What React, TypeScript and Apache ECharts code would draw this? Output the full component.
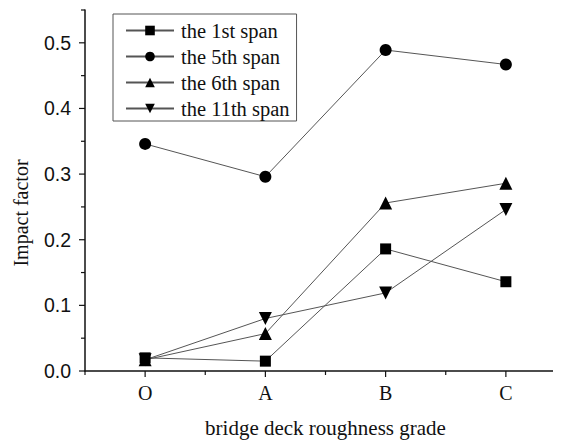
import React, { useEffect, useRef } from "react";
import * as echarts from "echarts";

const categories = ["O", "A", "B", "C"];
const span1 = [0.02, 0.015, 0.186, 0.136];
const span5 = [0.346, 0.296, 0.489, 0.467];
const span6 = [0.017, 0.057, 0.256, 0.286];
const span11 = [0.017, 0.08, 0.119, 0.246];
const seriesNames = ["the 1st span", "the 5th span", "the 6th span", "the 11th span"];
const yTicks = [0, 0.1, 0.2, 0.3, 0.4, 0.5];

export default function App() {
  const ref = useRef<HTMLDivElement>(null);
  useEffect(() => {
    if (!ref.current) return;
    const chart = echarts.init(ref.current, null, { renderer: "svg" });
    const toPts = (arr: number[]) => arr.map((v, i) => [i, v]);
    const symbols = ["rect", "circle", "triangle", "path://M0,0 L10,0 L5,9 Z"];
    const sizes = [11, 12, 13, 13];
    const all = [span1, span5, span6, span11];
    const serif = "Liberation Serif";
    chart.setOption({
      animation: false,
      backgroundColor: "#fff",
      grid: { left: 77, top: 2, width: 482, height: 361 },
      graphic: [
        {
          type: "text",
          x: 13,
          y: 205,
          rotation: Math.PI / 2,
          style: {
            text: "Impact factor",
            fontFamily: serif,
            fontSize: 20,
            fill: "#111",
            align: "center",
            verticalAlign: "middle",
          },
        },
      ],
      legend: {
        orient: "vertical",
        left: 105,
        top: 6,
        itemWidth: 48,
        itemHeight: 12,
        itemGap: 5,
        padding: [6, 7, 2, 12],
        borderColor: "#555",
        borderWidth: 1,
        backgroundColor: "#fff",
        textStyle: { fontFamily: serif, fontSize: 20.5, color: "#111", padding: [0, 0, 0, 2] },
        data: seriesNames,
      },
      xAxis: {
        type: "value",
        min: -0.5,
        max: 3.5,
        interval: 0.5,
        name: "bridge deck roughness grade",
        nameLocation: "middle",
        nameGap: 46,
        nameTextStyle: { fontFamily: serif, fontSize: 21, color: "#111" },
        axisLine: { lineStyle: { color: "#111", width: 1.5 } },
        axisTick: { show: false },
        minorTick: { show: false },
        splitLine: { show: false },
        axisLabel: {
          fontFamily: serif,
          fontSize: 20,
          color: "#111",
          margin: 12,
          formatter: (v: number) => (Number.isInteger(v) && v >= 0 && v < categories.length ? categories[v] : ""),
        },
      },
      yAxis: {
        type: "value",
        min: 0,
        max: 0.55,
        interval: 0.05,
        axisLine: { show: true, onZero: false, lineStyle: { color: "#111", width: 1.5 } },
        axisTick: { show: false },
        splitLine: { show: false },
        axisLabel: {
          fontFamily: "Liberation Sans",
          fontSize: 19.5,
          color: "#111",
          margin: 14,
          formatter: (v: number) => {
            const r = Math.round(v * 100) / 100;
            return yTicks.some((t) => Math.abs(t - r) < 1e-6) ? r.toFixed(1) : "";
          },
        },
      },
      series: [
        ...all.map((arr, i) => ({
          name: seriesNames[i],
          type: "line",
          data: toPts(arr),
          symbol: symbols[i],
          symbolSize: sizes[i],
          showAllSymbol: true,
          lineStyle: { color: "#555", width: 1 },
          itemStyle: { color: "#000", borderWidth: 0 },
          emphasis: { disabled: true },
        })),
        {
          type: "custom",
          silent: true,
          renderItem: (params: any, api: any) => {
            const children: any[] = [];
            for (let k = -0.5; k <= 3.5 + 1e-9; k += 0.5) {
              const p = api.coord([k, 0]);
              const major = Number.isInteger(k) && k >= 0;
              children.push({
                type: "line",
                shape: { x1: p[0], y1: p[1], x2: p[0], y2: p[1] + (major ? 6 : 4) },
                style: { stroke: "#111", lineWidth: 1.2 },
              });
            }
            for (let j = 0; j <= 11; j++) {
              const v = j * 0.05;
              const p = api.coord([-0.5, v]);
              const major = j % 2 === 0;
              children.push({
                type: "line",
                shape: { x1: p[0], y1: p[1], x2: p[0] - (major ? 6 : 4), y2: p[1] },
                style: { stroke: "#111", lineWidth: 1.2 },
              });
            }
            return params.dataIndex === 0 ? { type: "group", children } : null;
          },
          data: [[0, 0]],
        },
      ],
    });
    return () => chart.dispose();
  }, []);
  return <div ref={ref} style={{ width: 561, height: 441 }} />;
}
